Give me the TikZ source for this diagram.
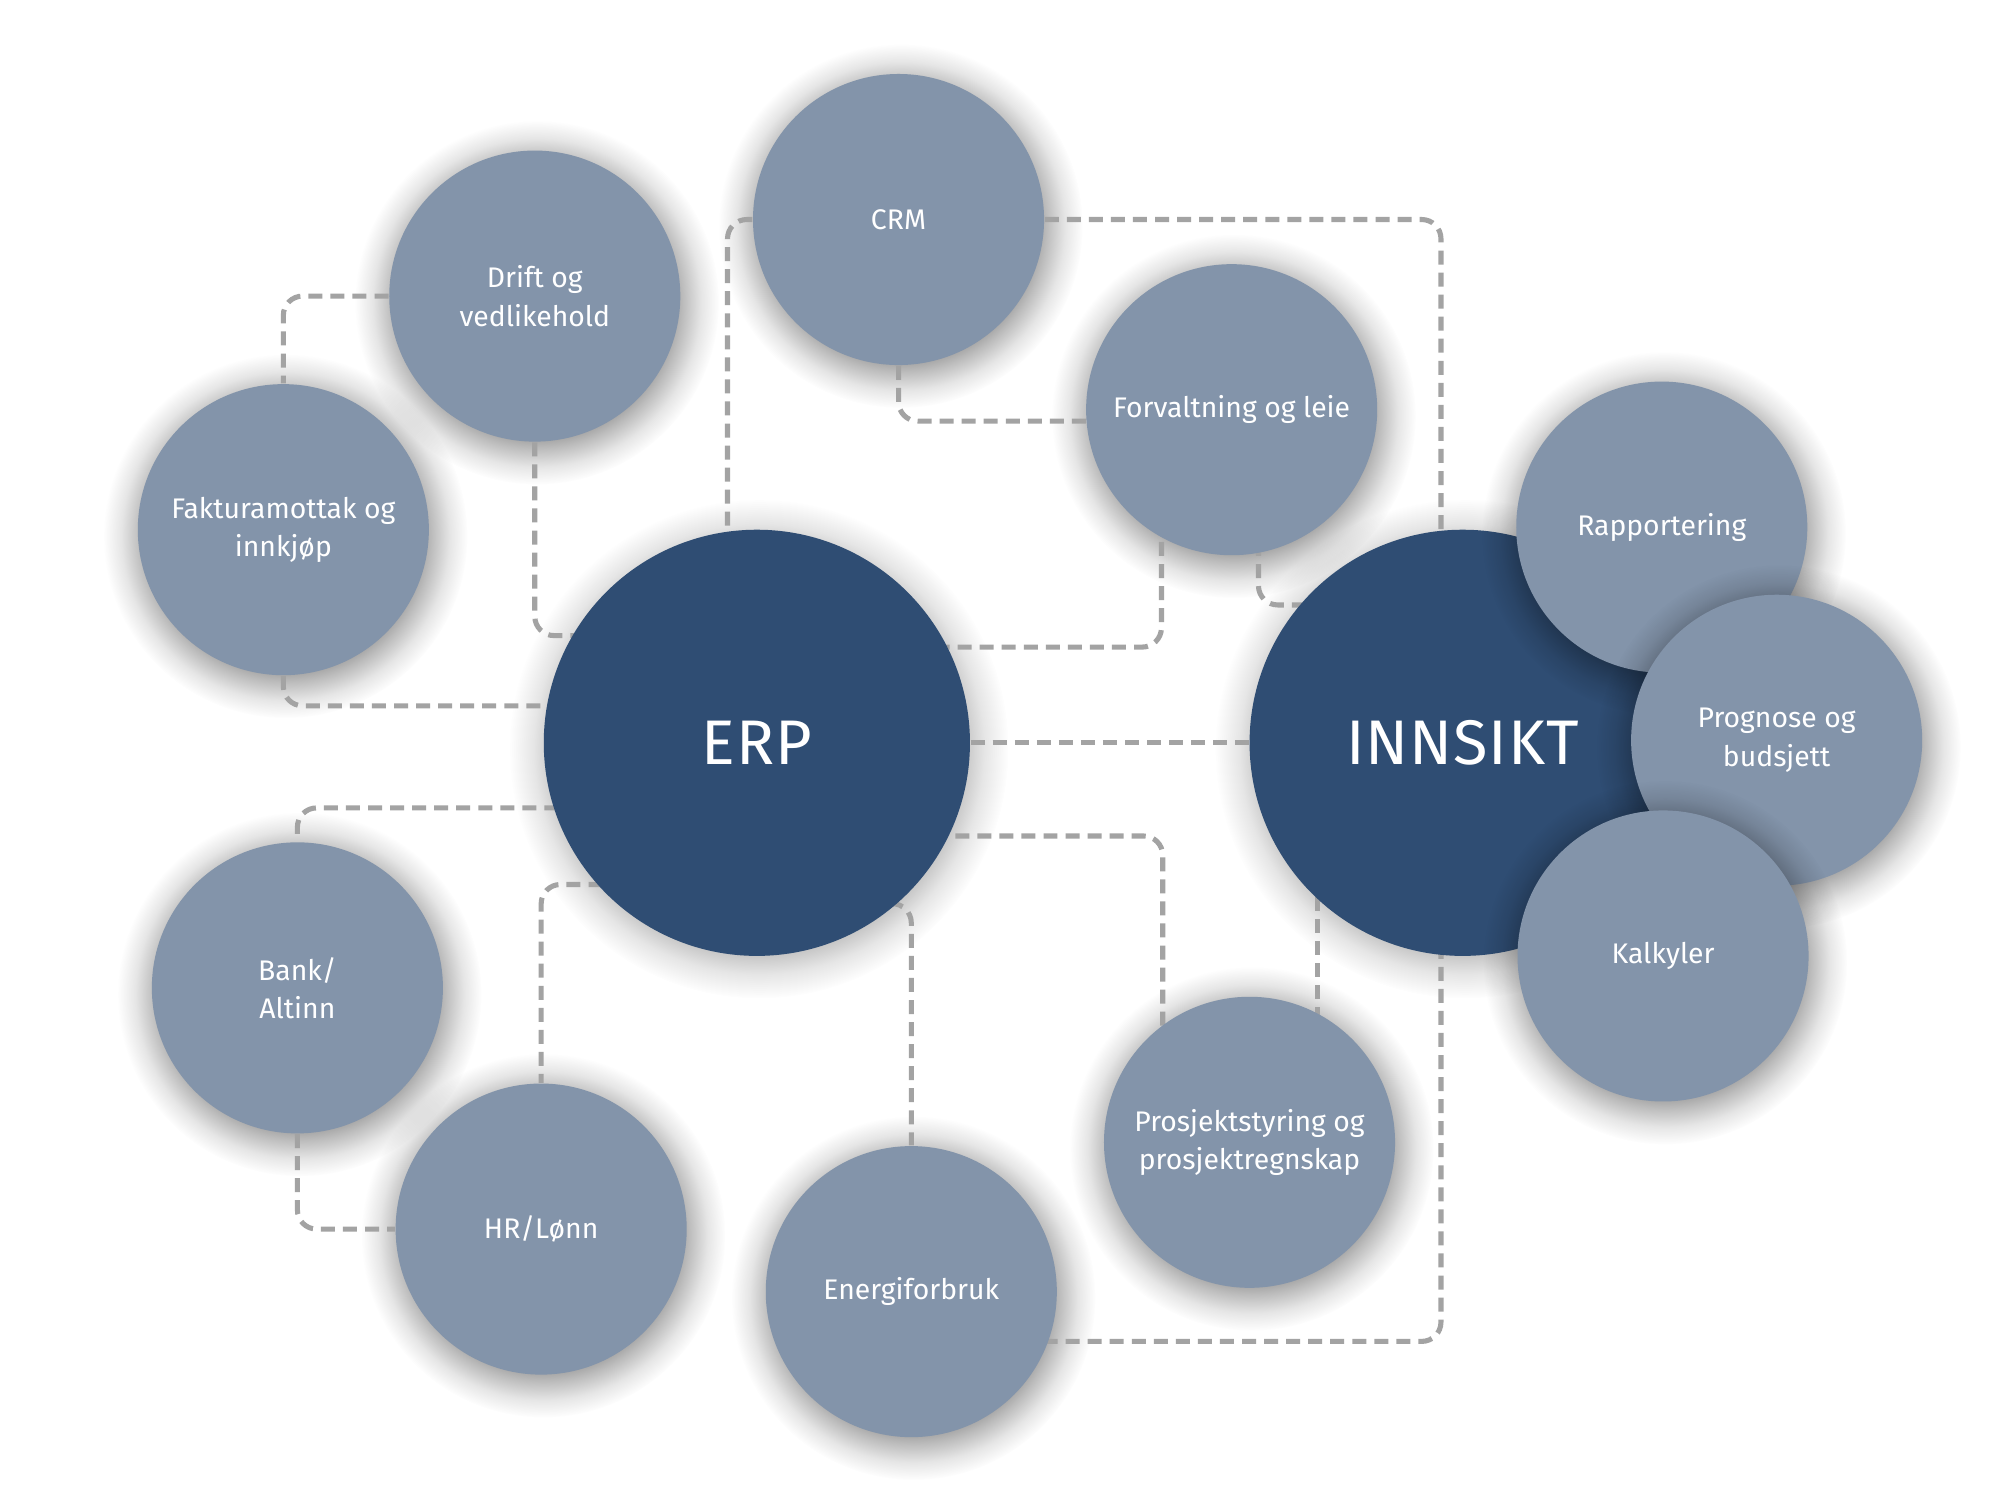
\documentclass[tikz,border=0pt]{standalone}
\usepackage{fontspec}
\setmainfont{Fira Sans}
\newfontfamily\bigfont[LetterSpace=1.5]{Fira Sans}
\usetikzlibrary{shadows,fadings}
\definecolor{lightblue}{HTML}{8394AA}
\definecolor{darkblue}{HTML}{2F4D73}
\definecolor{linegray}{HTML}{A3A3A3}
\pgfdeclareradialshading{softshadowsh}{\pgfpointorigin}{color(0bp)=(pgftransparent!0); color(18bp)=(pgftransparent!0); color(20bp)=(pgftransparent!35); color(22.5bp)=(pgftransparent!75); color(25bp)=(pgftransparent!100); color(50bp)=(pgftransparent!100)}
\pgfdeclarefading{softshadow}{\pgfuseshading{softshadowsh}}
\pgfdeclarelayer{bglayer}
\pgfdeclarelayer{shadowlayer}
\pgfdeclarelayer{linelayer}
\pgfsetlayers{bglayer,shadowlayer,linelayer,main}
\tikzset{
  bub/.style={circle, fill=lightblue, text=white, minimum size=2.923cm, inner sep=0pt, align=center, font=\fontsize{8.1}{10.9}\selectfont},
  big/.style={circle, fill=darkblue, text=white, minimum size=4.28cm, inner sep=0pt, align=center, font=\bigfont\fontsize{18}{22}\selectfont},
  softsh/.style={general shadow={shadow scale=#1, shadow xshift=0.5pt, shadow yshift=-1.5pt, fill=black, path fading=softshadow, opacity=0.4}},
  conn/.style={draw=linegray, line width=1.45pt, dash pattern=on 4pt off 2.3pt, rounded corners=5.5pt}
}
\begin{document}
\begin{tikzpicture}[x=0.01282cm, y=-0.01282cm]
\useasboundingbox (0,0) rectangle (1567,1175);
\begin{pgfonlayer}{bglayer}
\fill[white] (0,0) rectangle (1567,1175);
\end{pgfonlayer}
% nodes
\node[bub] (crm) at (704,172) {CRM};
\node[bub] (drift) at (419,232) {Drift og\\vedlikehold};
\node[bub] (fakt) at (222,415) {Fakturamottak og\\innkjøp};
\node[bub] (forv) at (965,321) {Forvaltning og leie};
\node[bub] (bank) at (233,774) {Bank/\\Altinn};
\node[bub] (hr) at (424,963) {HR/Lønn};
\node[bub] (energi) at (714,1012) {Energiforbruk};
\node[bub] (prosj) at (979,895) {Prosjektstyring og\\prosjektregnskap};
\node[big] (erp) at (593,582) {ERP};
\node[big] (inn) at (1146,582) {INNSIKT};
\node[bub, softsh=1.25] (rap) at (1302,413) {Rapportering};
\node[bub, softsh=1.25] (prog) at (1392,580) {Prognose og\\budsjett};
\node[bub, softsh=1.25] (kalk) at (1303,749) {Kalkyler};
% shadows
\begin{pgfonlayer}{shadowlayer}
\foreach \n in {crm,drift,fakt,forv,bank,hr,energi,prosj}
  \path[softsh=1.25] (\n.center) circle[radius=114];
\foreach \n in {erp,inn}
  \path[softsh=1.17] (\n.center) circle[radius=167];
\end{pgfonlayer}
% connectors
\coordinate (c2) at (593,498);
\coordinate (c3) at (593,553);
\coordinate (c4) at (570,582);
\coordinate (c5) at (965,330);
\coordinate (c6) at (1129,582);
\coordinate (c7a) at (910,321);
\coordinate (c7b) at (593,507);
\coordinate (c8a) at (986,321);
\coordinate (c8b) at (1146,474);
\coordinate (c10) at (593,633);
\coordinate (c11) at (593,693);
\coordinate (c12) at (593,708);
\coordinate (c13) at (593,655);
\coordinate (c13b) at (911,895);
\coordinate (c14a) at (1032,582);
\coordinate (c14b) at (1032,895);
\coordinate (c16) at (714,1051);
\begin{pgfonlayer}{linelayer}
\draw[conn] (drift) -| (fakt);
\draw[conn] (drift) |- (c2);
\draw[conn] (fakt) |- (c3);
\draw[conn] (crm) -| (c4);
\draw[conn] (crm) |- (c5);
\draw[conn] (crm) -| (c6);
\draw[conn] (c7a) |- (c7b);
\draw[conn] (c8a) |- (c8b);
\draw[conn] (erp) -- (inn);
\draw[conn] (c10) -| (bank);
\draw[conn] (c11) -| (hr);
\draw[conn] (c12) -| (energi);
\draw[conn] (c13) -| (c13b);
\draw[conn] (c14a) -- (c14b);
\draw[conn] (bank) |- (hr);
\draw[conn] (c16) -| (c6);
\end{pgfonlayer}
\end{tikzpicture}
\end{document}
